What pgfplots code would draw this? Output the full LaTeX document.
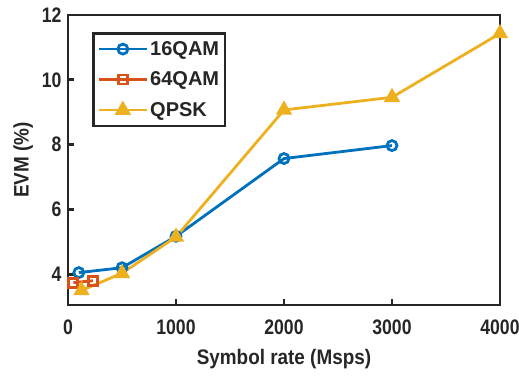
\documentclass[border=0pt]{standalone}
\usepackage{fontspec}
\setmainfont{Liberation Sans}
\newfontfamily\tickfont{Liberation Sans}[FakeStretch=0.84]
\newfontfamily\labfont{Liberation Sans}[FakeStretch=0.9]
\usepackage{pgfplots}
\pgfplotsset{compat=1.18}
\definecolor{mblue}{rgb}{0,0.447,0.741}
\definecolor{morange}{rgb}{0.85,0.325,0.098}
\definecolor{myellow}{rgb}{0.929,0.694,0.125}
\definecolor{axgray}{rgb}{0.15,0.15,0.15}
\begin{document}
\begin{tikzpicture}
\useasboundingbox (-68pt,-71pt) rectangle (451pt,305pt);
\begin{axis}[
  at={(0,0)}, anchor=south west,
  scale only axis, width=432pt, height=290pt,
  xmin=0, xmax=4000, ymin=3.05, ymax=12,
  xtick={0,1000,2000,3000,4000},
  ytick={4,6,8,10,12},
  xtick pos=bottom, ytick pos=left,
  tick align=inside,
  major tick length=6pt,
  axis line style={axgray, line width=2.8pt},
  every tick/.style={axgray, line width=2.8pt},
  /pgf/number format/assume math mode=true,
  scaled x ticks=false,
  /pgf/number format/1000 sep={},
  tick label style={font=\fontsize{21}{24}\tickfont\bfseries, text=axgray},
  xticklabel style={yshift=-11pt},
  yticklabel style={xshift=-3pt},
  label style={font=\fontsize{21}{24}\labfont\bfseries, text=axgray},
  xlabel style={yshift=-8pt},
  ylabel style={yshift=2pt},
  xlabel={Symbol rate (Msps)},
  ylabel={EVM (\%)},
  legend style={at={(0.056,0.941)}, anchor=north west, draw=axgray, line width=2.5pt,
    font=\fontsize{20}{23}\selectfont\bfseries, text=axgray, inner xsep=4pt, inner ysep=6pt, row sep=11pt},
  legend cell align=left,
  legend image code/.code={%
    \draw[mark repeat=2,mark phase=2,line width=2.8pt]
      plot coordinates {(0pt,0pt) (24pt,0pt) (48pt,0pt)};},
  clip=false,
]
\addplot[mblue, line width=2.8pt, mark=o, mark size=5pt, mark options={solid, line width=2.8pt}]
 coordinates {(100,4.05) (500,4.2) (1000,5.17) (2000,7.57) (3000,7.97)};
\addlegendentry{16QAM}
\addplot[morange, line width=2.8pt, mark=square, mark size=4.5pt, mark options={solid, line width=2.8pt}]
 coordinates {(50,3.74) (230,3.8)};
\addlegendentry{64QAM}
\addplot[myellow, line width=2.8pt, mark=triangle*, mark size=7pt, mark options={solid, line width=2.5pt, fill=myellow}]
 coordinates {(125,3.5) (500,4.03) (1000,5.15) (2000,9.07) (3000,9.46) (4000,11.43)};
\addlegendentry{QPSK}
\end{axis}
\end{tikzpicture}
\end{document}
